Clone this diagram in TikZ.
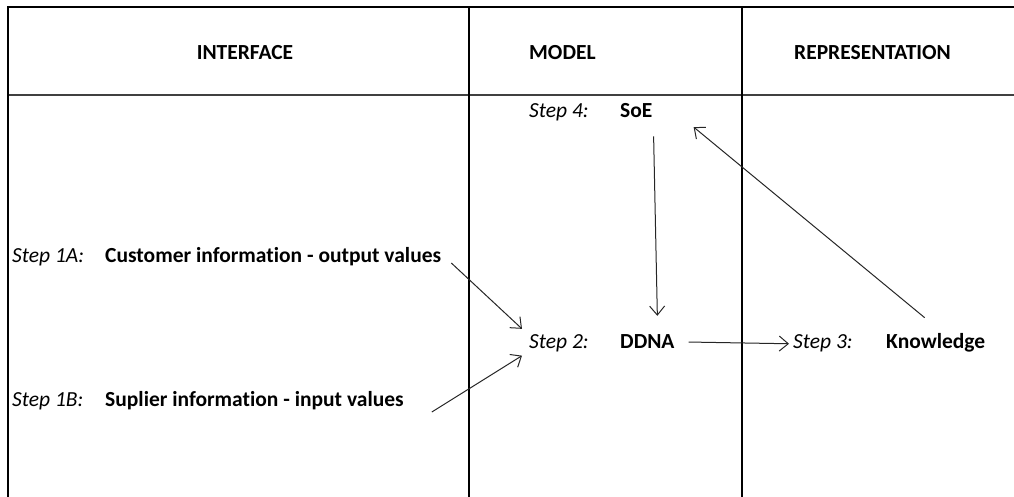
\documentclass[tikz,border=0pt]{standalone}
\usepackage{fontspec}
\setmainfont{Carlito}[Ligatures={NoCommon}]
\usetikzlibrary{arrows.meta}

\begin{document}
\begin{tikzpicture}[x=1pt, y=-1pt, >={Straight Barb[length=9pt,width=15pt]},
    txt/.style={anchor=base west, inner sep=0pt, font=\fontsize{21.5}{26}\selectfont},
    stp/.style={txt, font=\fontsize{21.5}{26}\selectfont\itshape},
    item/.style={txt, font=\fontsize{21.5}{26}\selectfont\bfseries},
    frame/.style={line width=2.6pt, line join=miter},
    flow/.style={->, line width=1pt, black!85}]

    \useasboundingbox (0,0) rectangle (1014,497);

    % table lines
    \draw[line width=1.3pt, black!75] (8,95) -- (1014,95);
    \draw[frame] (8,497) -- (8,7) -- (1014,7);
    \draw[frame] (469,7) -- (469,497);
    \draw[frame] (742,7) -- (742,497);

    % headers
    \node[item, anchor=base] (hInt) at (245,60) {INTERFACE};
    \node[item] (hMod) at (529,60) {MODEL};
    \node[item] (hRep) at (794,60) {REPRESENTATION};

    % steps
    \node[stp]  (s4)   at (529,118) {Step 4:};
    \node[item] (soe)  at (620,118) {SoE};
    \node[stp]  (s1a)  at (12,262)  {Step 1A:};
    \node[item] (cust) at (105,262) {Customer information - output values};
    \node[stp]  (s2)   at (529,348) {Step 2:};
    \node[item] (ddna) at (620,348) {DDNA};
    \node[stp]  (s3)   at (793,348) {Step 3:};
    \node[item] (know) at (886,348) {Knowledge};
    \node[stp]  (s1b)  at (12,406)  {Step 1B:};
    \node[item] (supl) at (105,406) {Suplier information - input values};

    % arrows
    \draw[flow] ([shift={(10,1)}]cust.base east) -- ([shift={(-7,-5)}]s2.north west);
    \draw[flow] ([shift={(28,6)}]supl.base east) -- ([shift={(-7,4)}]s2.south west);
    \draw[flow] ([shift={(1,18)}]soe.south east) -- ([shift={(10,-18)}]ddna.north);
    \draw[flow] ([shift={(-11,-15)}]know.north) -- ([shift={(41,16)}]soe.east);
    \draw[flow] ([shift={(14,1)}]ddna.east) -- ([shift={(-4,1)}]s3.west);
\end{tikzpicture}
\end{document}
